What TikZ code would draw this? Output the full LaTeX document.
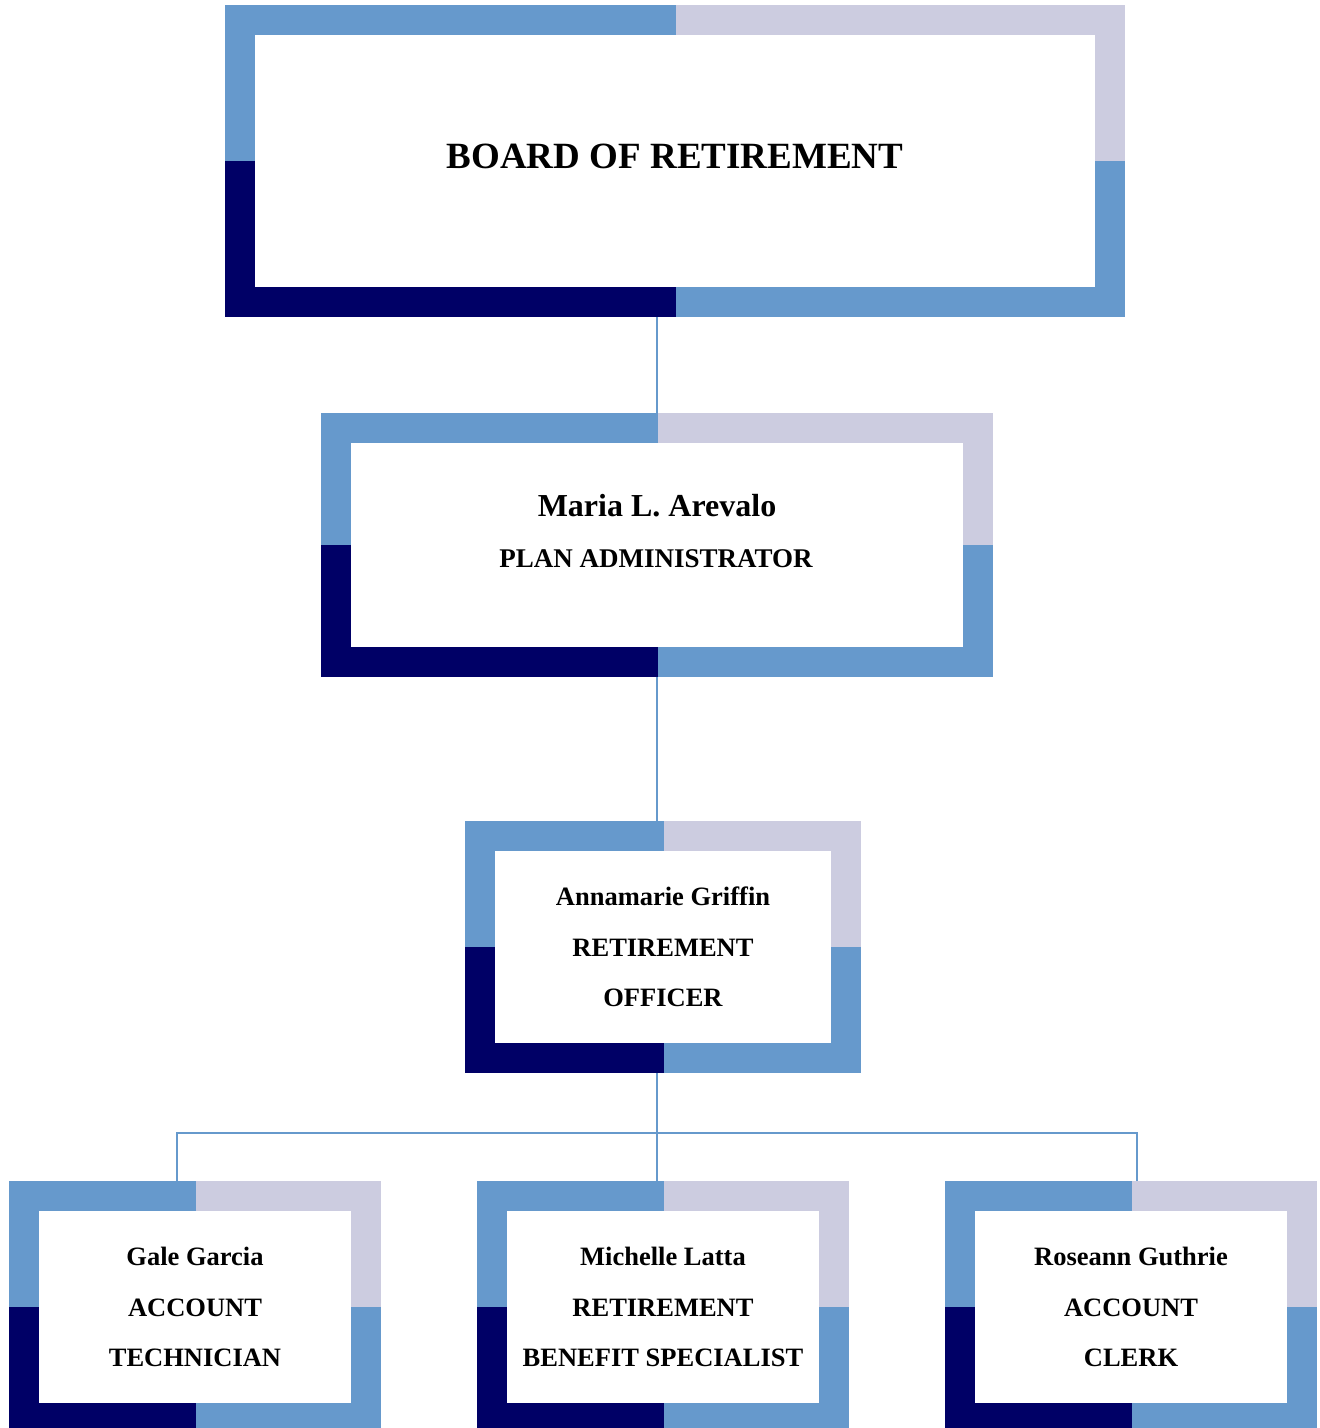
\documentclass[tikz,border=0pt]{standalone}
\usepackage{fontspec}
\setmainfont{Liberation Serif}
\definecolor{cblue}{HTML}{6699CC}
\definecolor{clav}{HTML}{CCCCE0}
\definecolor{cnavy}{HTML}{000066}
\tikzset{
  orgframe/.style={rectangle, inner sep=0pt, outer sep=0pt, draw=none,
    path picture={
      \fill[cblue] (path picture bounding box.north west) rectangle ([xshift=1pt]path picture bounding box.center);
      \fill[clav] (path picture bounding box.north east) rectangle ([xshift=1pt]path picture bounding box.center);
      \fill[cnavy] (path picture bounding box.south west) rectangle ([xshift=1pt]path picture bounding box.center);
      \fill[cblue] (path picture bounding box.south east) rectangle ([xshift=1pt]path picture bounding box.center);
      \fill[white] ([xshift=30pt,yshift=-30pt]path picture bounding box.north west) rectangle ([xshift=-30pt,yshift=30pt]path picture bounding box.south east);
    }},
  conn/.style={draw=cblue, line width=2pt},
  txt/.style={anchor=base, inner sep=0pt, font=\bfseries\fontsize{#1}{#1}\selectfont},
}
\begin{document}
\begin{tikzpicture}[x=1pt,y=-1pt]
\useasboundingbox (0,0) rectangle (1320,1428);
\clip (0,0) rectangle (1320,1428);
\fill[white] (0,0) rectangle (1320,1428);

% frames
\node[orgframe, minimum width=900pt, minimum height=312pt] (board) at (675,161) {};
\node[orgframe, minimum width=672pt, minimum height=264pt] (admin) at (657,545) {};
\node[orgframe, minimum width=396pt, minimum height=252pt] (officer) at (663,947) {};
\node[orgframe, minimum width=372pt, minimum height=252pt] (gale) at (195,1307) {};
\node[orgframe, minimum width=372pt, minimum height=252pt] (michelle) at (663,1307) {};
\node[orgframe, minimum width=372pt, minimum height=252pt] (roseann) at (1131,1307) {};

% connectors
\coordinate (busL) at (177,1133);
\coordinate (busR) at (1137,1133);
\draw[conn] (admin.north) -- (admin.north |- board.south);
\draw[conn] (admin.south) -- (admin.south |- officer.north);
\draw[conn] (admin.south |- officer.south) -- (admin.south |- michelle.north);
\draw[conn] (busL |- gale.north) -- (busL) -- (busR) -- (busR |- roseann.north);

% texts
\node[txt=37] (t-board) at (675,168) {BOARD OF RETIREMENT};
\node[txt=32] (t-admin1) at (657,516) {Maria L. Arevalo};
\node[txt=27] (t-admin2) at (656,567) {PLAN ADMINISTRATOR};
\node[txt=26.5] (t-off1) at (663,905) {Annamarie Griffin};
\node[txt=26.5] (t-off2) at (663,956) {RETIREMENT};
\node[txt=26.5] (t-off3) at (663,1006) {OFFICER};
\node[txt=26.5] (t-g1) at (195,1265) {Gale Garcia};
\node[txt=26.5] (t-g2) at (195,1316) {ACCOUNT};
\node[txt=26.5] (t-g3) at (195,1366) {TECHNICIAN};
\node[txt=26.5] (t-m1) at (663,1265) {Michelle Latta};
\node[txt=26.5] (t-m2) at (663,1316) {RETIREMENT};
\node[txt=26.5] (t-m3) at (663,1366) {BENEFIT SPECIALIST};
\node[txt=26.5] (t-r1) at (1131,1265) {Roseann Guthrie};
\node[txt=26.5] (t-r2) at (1131,1316) {ACCOUNT};
\node[txt=26.5] (t-r3) at (1131,1366) {CLERK};
\end{tikzpicture}
\end{document}
